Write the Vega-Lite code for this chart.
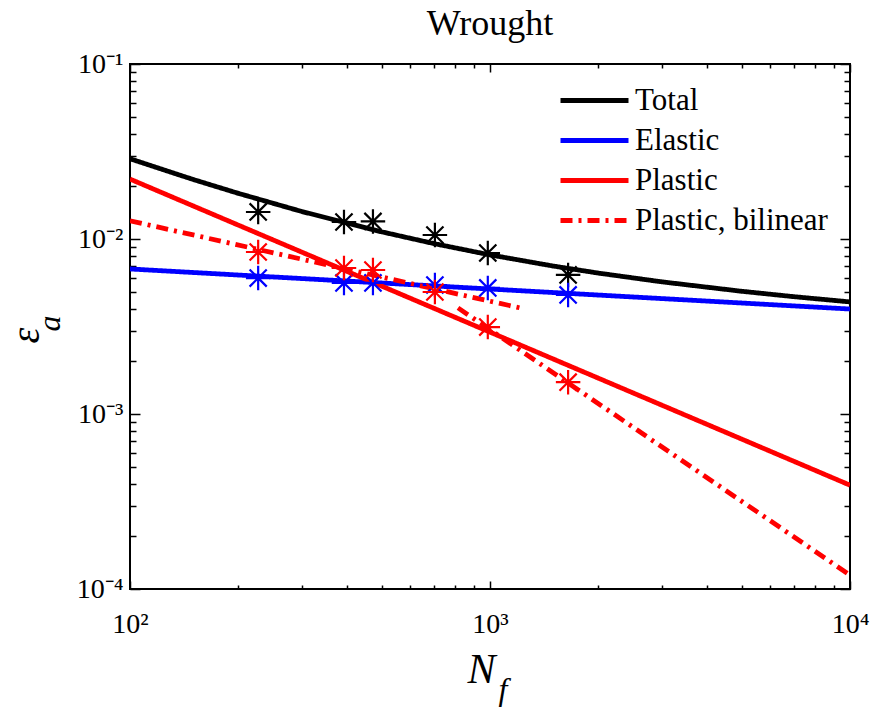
{
  "$schema": "https://vega.github.io/schema/vega-lite/v6.json",
  "width": 720,
  "height": 525,
  "autosize": {"type": "none"},
  "padding": {"left": 130, "top": 64, "right": 20, "bottom": 126},
  "background": "white",
  "title": {"text": "Wrought", "font": "Liberation Serif, Times New Roman, serif", "fontSize": 36, "fontWeight": "normal", "color": "black", "anchor": "middle", "baseline": "alphabetic", "offset": 22, "dy": 43},
  "config": {
    "view": {"stroke": "black", "strokeWidth": 2},
    "font": "Liberation Serif, Times New Roman, serif"
  },
  "datasets": {
    "lines": [
      {"series": "Total", "N": 100, "e": 0.02874},
      {"series": "Total", "N": 150, "e": 0.02186},
      {"series": "Total", "N": 200, "e": 0.01823},
      {"series": "Total", "N": 300, "e": 0.01436},
      {"series": "Total", "N": 500, "e": 0.01099},
      {"series": "Total", "N": 700, "e": 0.009406},
      {"series": "Total", "N": 1000, "e": 0.008115},
      {"series": "Total", "N": 1500, "e": 0.007003},
      {"series": "Total", "N": 2000, "e": 0.006385},
      {"series": "Total", "N": 3000, "e": 0.005691},
      {"series": "Total", "N": 5000, "e": 0.005027},
      {"series": "Total", "N": 7000, "e": 0.00468},
      {"series": "Total", "N": 10000, "e": 0.004371},
      {"series": "Elastic", "N": 100, "e": 0.006742},
      {"series": "Elastic", "N": 200, "e": 0.006225},
      {"series": "Elastic", "N": 500, "e": 0.005606},
      {"series": "Elastic", "N": 1000, "e": 0.005178},
      {"series": "Elastic", "N": 2000, "e": 0.004783},
      {"series": "Elastic", "N": 5000, "e": 0.004308},
      {"series": "Elastic", "N": 10000, "e": 0.003979},
      {"series": "Plastic", "N": 100, "e": 0.022},
      {"series": "Plastic", "N": 200, "e": 0.012},
      {"series": "Plastic", "N": 500, "e": 0.005383},
      {"series": "Plastic", "N": 1000, "e": 0.002937},
      {"series": "Plastic", "N": 2000, "e": 0.001602},
      {"series": "Plastic", "N": 5000, "e": 0.000719},
      {"series": "Plastic", "N": 10000, "e": 0.000392},
      {"series": "Plastic, bilinear", "seg": "a", "N": 100, "e": 0.0127},
      {"series": "Plastic, bilinear", "seg": "a", "N": 1211, "e": 0.00404},
      {"series": "Plastic, bilinear", "seg": "b", "N": 815, "e": 0.00404},
      {"series": "Plastic, bilinear", "seg": "b", "N": 10000, "e": 0.00012}
    ],
    "stars": [
      {"series": "Total", "N": 227, "e": 0.01427},
      {"series": "Total", "N": 393, "e": 0.01251},
      {"series": "Total", "N": 473, "e": 0.0126},
      {"series": "Total", "N": 703, "e": 0.01054},
      {"series": "Total", "N": 986, "e": 0.00832},
      {"series": "Total", "N": 1648, "e": 0.00623},
      {"series": "Elastic", "N": 227, "e": 0.00598},
      {"series": "Elastic", "N": 393, "e": 0.00561},
      {"series": "Elastic", "N": 473, "e": 0.00561},
      {"series": "Elastic", "N": 703, "e": 0.00546},
      {"series": "Elastic", "N": 986, "e": 0.00525},
      {"series": "Elastic", "N": 1648, "e": 0.00479},
      {"series": "Plastic", "N": 227, "e": 0.00843},
      {"series": "Plastic", "N": 393, "e": 0.00683},
      {"series": "Plastic", "N": 473, "e": 0.00665},
      {"series": "Plastic", "N": 703, "e": 0.00498},
      {"series": "Plastic", "N": 986, "e": 0.00314},
      {"series": "Plastic", "N": 1648, "e": 0.00152}
    ]
  },
  "resolve": {"axis": {"x": "independent", "y": "independent"}},
  "layer": [
    {
      "layer": [
        {
          "data": {"name": "lines"},
          "mark": {"type": "line", "strokeWidth": 4.8, "clip": true},
          "encoding": {
            "x": {
              "field": "N", "type": "quantitative",
              "scale": {"type": "log", "domain": [100, 10000], "nice": false},
              "axis": {
                "values": [100, 200, 300, 400, 500, 600, 700, 800, 900, 1000, 2000, 3000, 4000, 5000, 6000, 7000, 8000, 9000, 10000],
                "labelExpr": "datum.value == 100 ? '10²' : datum.value == 1000 ? '10³' : datum.value == 10000 ? '10⁴' : ''",
                "tickSize": {"condition": {"test": "datum.value == 100 || datum.value == 1000 || datum.value == 10000", "value": -8}, "value": -4},
                "tickColor": "black", "tickWidth": 1.5,
                "labelFont": "Liberation Serif, Times New Roman, serif", "labelFontSize": 28, "labelColor": "black", "labelPadding": 29,
                "labelFlush": false, "labelOverlap": false, "domain": false, "grid": false,
                "title": "N", "titleFont": "Liberation Serif, Times New Roman, serif", "titleFontStyle": "italic", "titleFontSize": 42, "titleFontWeight": "normal", "titleColor": "black",
                "titleX": 351, "titleY": 93, "titleBaseline": "alphabetic", "titleAlign": "center"
              }
            },
            "y": {
              "field": "e", "type": "quantitative",
              "scale": {"type": "log", "domain": [0.0001, 0.1], "nice": false},
              "axis": {
                "values": [0.0001, 0.0002, 0.0003, 0.0004, 0.0005, 0.0006, 0.0007, 0.0008, 0.0009, 0.001, 0.002, 0.003, 0.004, 0.005, 0.006, 0.007, 0.008, 0.009, 0.01, 0.02, 0.03, 0.04, 0.05, 0.06, 0.07, 0.08, 0.09, 0.1],
                "labelExpr": "datum.value == 0.0001 ? '10⁻⁴' : datum.value == 0.001 ? '10⁻³' : datum.value == 0.01 ? '10⁻²' : datum.value == 0.1 ? '10⁻¹' : ''",
                "tickSize": {"condition": {"test": "datum.value == 0.0001 || datum.value == 0.001 || datum.value == 0.01 || datum.value == 0.1", "value": -10}, "value": -6},
                "tickColor": "black", "tickWidth": 1.5,
                "labelFont": "Liberation Serif, Times New Roman, serif", "labelFontSize": 28, "labelColor": "black", "labelPadding": 17,
                "labelFlush": false, "labelOverlap": false, "domain": false, "grid": false,
                "title": "ε", "titleFont": "Liberation Serif, Times New Roman, serif", "titleFontStyle": "italic", "titleFontSize": 40, "titleFontWeight": "normal", "titleColor": "black",
                "titleAngle": 270, "titleX": -104, "titleY": 271, "titleBaseline": "middle", "titleAlign": "center"
              }
            },
            "color": {
              "field": "series", "type": "nominal",
              "scale": {"domain": ["Total", "Elastic", "Plastic", "Plastic, bilinear"], "range": ["#000000", "#0000ff", "#ff0000", "#ff0000"]},
              "legend": {"title": null, "orient": "none", "legendX": 445, "legendY": 17, "padding": 0, "symbolType": "M-2,0L2,0", "symbolSize": 1156, "symbolStrokeWidth": 4.8, "labelFont": "Liberation Serif, Times New Roman, serif", "labelFontSize": 31, "labelColor": "black", "labelOffset": 21, "rowPadding": 5, "labelLimit": 400}
            },
            "strokeDash": {
              "field": "series", "type": "nominal",
              "scale": {"domain": ["Total", "Elastic", "Plastic", "Plastic, bilinear"], "range": [[1, 0], [1, 0], [1, 0], [12, 6, 3, 6]]},
              "legend": {"title": null, "orient": "none", "legendX": 445, "legendY": 17, "padding": 0, "symbolType": "M-2,0L2,0", "symbolSize": 1156, "symbolStrokeWidth": 4.8, "labelFont": "Liberation Serif, Times New Roman, serif", "labelFontSize": 31, "labelColor": "black", "labelOffset": 21, "rowPadding": 5, "labelLimit": 400}
            },
            "detail": {"field": "seg"}
          }
        },
        {
          "data": {"name": "stars"},
          "mark": {"type": "point", "shape": "M-1,0L1,0M0,-1L0,1M-0.7,-0.7L0.7,0.7M-0.7,0.7L0.7,-0.7", "filled": false, "strokeWidth": 2.2, "size": 600, "opacity": 1},
          "encoding": {
            "x": {"field": "N", "type": "quantitative"},
            "y": {"field": "e", "type": "quantitative"},
            "color": {"field": "series", "type": "nominal", "legend": null}
          }
        },
        {
          "data": {"values": [{"t": "f"}]},
          "mark": {"type": "text", "font": "Liberation Serif, Times New Roman, serif", "fontStyle": "italic", "fontSize": 32, "align": "center", "baseline": "alphabetic", "dx": 13, "dy": 111, "color": "black"},
          "encoding": {
            "x": {"datum": 1000, "type": "quantitative"},
            "y": {"datum": 0.0001, "type": "quantitative"},
            "text": {"field": "t"}
          }
        },
        {
          "data": {"values": [{"t": "a"}]},
          "mark": {"type": "text", "font": "Liberation Serif, Times New Roman, serif", "fontStyle": "italic", "fontSize": 32, "align": "center", "baseline": "middle", "angle": 270, "dx": 3, "dy": -80, "color": "black"},
          "encoding": {
            "x": {"datum": 100, "type": "quantitative"},
            "y": {"datum": 0.003162, "type": "quantitative"},
            "text": {"field": "t"}
          }
        }
      ]
    },
    {
      "data": {"name": "stars"},
      "mark": {"type": "point", "opacity": 0},
      "encoding": {
        "x": {
          "field": "N", "type": "quantitative",
          "axis": {
            "orient": "top",
            "values": [100, 200, 300, 400, 500, 600, 700, 800, 900, 1000, 2000, 3000, 4000, 5000, 6000, 7000, 8000, 9000, 10000],
            "labels": false, "title": null, "domain": false, "grid": false,
            "tickSize": {"condition": {"test": "datum.value == 100 || datum.value == 1000 || datum.value == 10000", "value": -8}, "value": -4},
            "tickColor": "black", "tickWidth": 1.5
          }
        },
        "y": {
          "field": "e", "type": "quantitative",
          "axis": {
            "orient": "right",
            "values": [0.0001, 0.0002, 0.0003, 0.0004, 0.0005, 0.0006, 0.0007, 0.0008, 0.0009, 0.001, 0.002, 0.003, 0.004, 0.005, 0.006, 0.007, 0.008, 0.009, 0.01, 0.02, 0.03, 0.04, 0.05, 0.06, 0.07, 0.08, 0.09, 0.1],
            "labels": false, "title": null, "domain": false, "grid": false,
            "tickSize": {"condition": {"test": "datum.value == 0.0001 || datum.value == 0.001 || datum.value == 0.01 || datum.value == 0.1", "value": -10}, "value": -6},
            "tickColor": "black", "tickWidth": 1.5
          }
        }
      }
    }
  ]
}
